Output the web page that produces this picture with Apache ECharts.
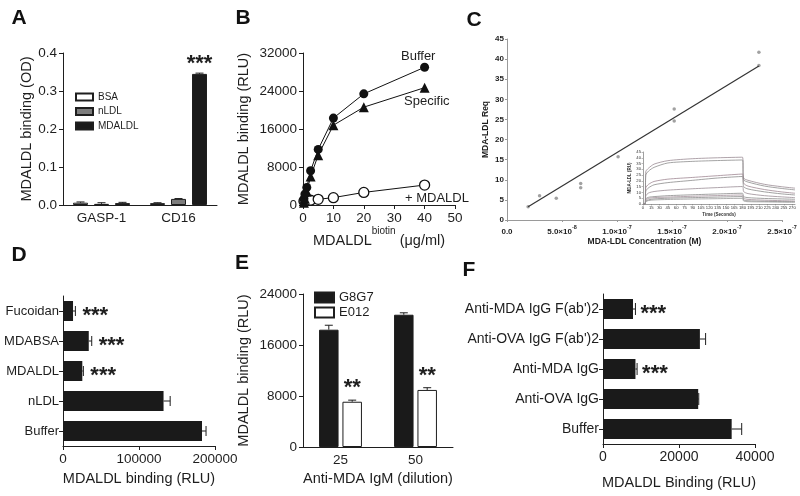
<!DOCTYPE html>
<html><head><meta charset="utf-8">
<script src="https://cdn.jsdelivr.net/npm/echarts@6/dist/echarts.min.js"></script>
<style>html,body{margin:0;padding:0;background:#fff}#c{width:800px;height:496px}</style>
</head><body><div id="c"></div>
<script>
// ---------- Panel A ----------
const aCategories = ['GASP-1', 'CD16'];
const aSeriesNames = ['BSA', 'nLDL', 'MDALDL'];
const aBSA = [0.006, 0.005];
const aBSAErr = [0.002, 0.001];
const aNLDL = [0.003, 0.016];
const aNLDLErr = [0.003, 0.001];
const aMDALDL = [0.005, 0.345];
const aMDALDLErr = [0.002, 0.002];
const aStarsMDALDL = ['', '***'];
const aYTicks = [0, 0.1, 0.2, 0.3, 0.4];
// ---------- Panel B ----------
const bDose = [0.3125, 0.625, 1.25, 2.5, 5, 10, 20, 40];
const bBuffer = [1300, 2300, 3700, 7200, 11700, 18300, 23400, 29000];
const bSpecific = [500, 1300, 2800, 6000, 10500, 16800, 20600, 24700];
const bPlusMDALDL = [800, 900, 950, 1000, 1200, 1550, 2650, 4200];
const bXTicks = [0, 10, 20, 30, 40, 50];
const bYTicks = [0, 8000, 16000, 24000, 32000];
// ---------- Panel C ----------
const cConc = [1.92e-8, 2.96e-8, 4.48e-8, 6.7e-8, 6.7e-8, 1.01e-7, 1.52e-7, 1.52e-7, 2.29e-7, 2.29e-7];
const cReq = [3.3, 6.0, 5.4, 9.1, 8.0, 15.7, 27.6, 24.6, 41.7, 38.4];
const cFitConc = [1.92e-8, 2.29e-7];
const cFitReq = [3.3, 38.3];
const cTime = [0, 4, 5, 10, 20, 45, 90, 135, 180, 182, 190, 220, 250, 275];
const cCurve1 = [0, 0, 28, 31, 34.5, 37.5, 39.2, 40, 40.5, 22.5, 20.5, 17, 15, 13.7];
const cCurve2 = [0, 0, 25, 28.5, 31.7, 35.5, 36.9, 37.6, 38.1, 21, 19, 15.5, 13.5, 12.2];
const cCurve3 = [0, 0, 14, 17, 19.5, 21.5, 23, 24.5, 25.9, 18, 15.5, 12.5, 10.5, 9.3];
const cCurve4 = [0, 0, 11, 14, 16.6, 18.5, 20.5, 22.5, 23.8, 15.1, 13, 10.5, 8.8, 7.8];
const cCurve5 = [0, 0, 7, 9.5, 10.8, 12, 13.2, 14.2, 15.1, 10.8, 9, 7.2, 6.2, 5.5];
const cCurve6 = [0, 0, 4.5, 5.8, 6.4, 7.2, 8, 8.7, 9.3, 6.4, 5.5, 4.8, 4.4, 4.1];
const cCurve7 = [0, 0, 3.5, 4.8, 5.5, 6, 6.7, 7.3, 7.8, 4.9, 4, 3.3, 2.9, 2.6];
const cCurve8 = [0, 0, 2.5, 3.6, 4.4, 5, 5.5, 6, 6.4, 3.5, 2.8, 2.3, 2.1, 2.0];
const cCurve9 = [0, 0, 2, 3, 3.5, 3.9, 4.3, 4.6, 4.9, 2.6, 2, 1.8, 1.6, 1.5];
// ---------- Panel D ----------
const dCategories = ['Buffer', 'nLDL', 'MDALDL', 'MDABSA', 'Fucoidan'];
const dValues = [182900, 132300, 25400, 33900, 13200];
const dErr = [5300, 8700, 1400, 3900, 3100];
const dStars = ['', '', '***', '***', '***'];
// ---------- Panel E ----------
const eCategories = ['25', '50'];
const eG8G7 = [18400, 20750];
const eG8G7Err = [700, 300];
const eE012 = [7100, 8950];
const eE012Err = [250, 350];
const eStarsE012 = ['**', '**'];
// ---------- Panel F ----------
const fCategories = ['Buffer', 'Anti-OVA IgG', 'Anti-MDA IgG', "Anti-OVA IgG F(ab')2", "Anti-MDA IgG F(ab')2"];
const fValues = [33860, 25050, 8540, 25500, 7900];
const fErr = [2640, 150, 430, 1500, 640];
const fStars = ['', '', '***', '', '***'];

const FONT = '"Liberation Sans", Arial, Helvetica, sans-serif';
const INK = '#1e1e1e';
const chart = echarts.init(document.getElementById('c'), null, {renderer: 'canvas'});

function vErr(stars, capHalf, starOff, starSize) {
  return function (params, api) {
    const c = api.value(0), m = api.value(1), e = api.value(2), off = api.value(3);
    const p0 = api.coord([c, m]); const p1 = api.coord([c, m + e]);
    const x = p0[0] + off;
    const ch = [
      {type: 'line', shape: {x1: x, y1: p0[1], x2: x, y2: p1[1]}, style: {stroke: INK, lineWidth: 1}},
      {type: 'line', shape: {x1: x - capHalf, y1: p1[1], x2: x + capHalf, y2: p1[1]}, style: {stroke: INK, lineWidth: 1}}
    ];
    const s = stars[params.dataIndex];
    if (s) ch.push({type: 'text', x: x, y: p1[1] - starOff, style: {text: s, font: 'bold ' + starSize + 'px ' + FONT, fill: INK, align: 'center', verticalAlign: 'middle'}});
    return {type: 'group', children: ch};
  };
}
function hErr(stars, capHalf, starGap, starSize) {
  return function (params, api) {
    const c = api.value(1), m = api.value(0), e = api.value(2);
    const p0 = api.coord([m, c]); const p1 = api.coord([m + e, c]);
    const y = p0[1];
    const ch = [
      {type: 'line', shape: {x1: p0[0], y1: y, x2: p1[0], y2: y}, style: {stroke: INK, lineWidth: 1}},
      {type: 'line', shape: {x1: p1[0], y1: y - capHalf, x2: p1[0], y2: y + capHalf}, style: {stroke: INK, lineWidth: 1}}
    ];
    const s = stars[params.dataIndex];
    if (s) ch.push({type: 'text', x: p1[0] + starGap, y: y + 5, style: {text: s, font: 'bold ' + starSize + 'px ' + FONT, fill: INK, align: 'left', verticalAlign: 'middle'}});
    return {type: 'group', children: ch};
  };
}

const axLine = {show: true, onZero: false, lineStyle: {color: INK, width: 1}};
const axTick = {show: true, length: 4, lineStyle: {color: INK, width: 1}};
const lbl = (fs, extra) => Object.assign({color: INK, fontSize: fs, fontFamily: FONT}, extra || {});
const nameStyle = (fs) => ({color: INK, fontSize: fs, fontFamily: FONT});

// grouped bar offsets (pixels) – style, derived from bar width & gap
const aBarW = 15, aGap = 0.4;
const aOff = i => (i - 1) * aBarW * (1 + aGap);
const eBarW = 19.5, eGap = 0.2;
const eOff = i => (i - 0.5) * eBarW * (1 + eGap);

const aErrData = [];
const aErrStars = [];
[[aBSA, aBSAErr], [aNLDL, aNLDLErr], [aMDALDL, aMDALDLErr]].forEach((pair, s) => {
  pair[0].forEach((v, c) => { aErrData.push([c, v, pair[1][c], aOff(s)]); aErrStars.push(s === 2 ? aStarsMDALDL[c] : ''); });
});
const eErrData = [], eErrStars = [];
[[eG8G7, eG8G7Err], [eE012, eE012Err]].forEach((pair, s) => {
  pair[0].forEach((v, c) => { eErrData.push([c, v, pair[1][c], eOff(s)]); eErrStars.push(s === 1 ? eStarsE012[c] : ''); });
});
const dErrData = dValues.map((v, i) => [v, i, dErr[i]]);
const fErrData = fValues.map((v, i) => [v, i, fErr[i]]);

function sciLabel(v) {
  if (v === 0) return '{b|0.0}';
  const e = Math.floor(Math.log10(v) + 1e-9);
  const m = (v / Math.pow(10, e)).toFixed(1);
  return '{b|' + m + '×10}{s|' + e + '}';
}

const cCurves = [cCurve1, cCurve2, cCurve3, cCurve4, cCurve5, cCurve6, cCurve7, cCurve8, cCurve9];
const cCurveColors = ['#9a8c94', '#8d8d8d', '#a08893', '#8a8a8a', '#9b8d95', '#8c8c8c', '#a3909a', '#8a8a8a', '#9a9a9a'];

const option = {
  animation: false,
  backgroundColor: '#fff',
  textStyle: {fontFamily: FONT},
  grid: [
    {left: 63, top: 53, width: 154, height: 152},   // A 0
    {left: 303, top: 53, width: 152, height: 152},  // B 1
    {left: 507, top: 39, width: 275, height: 181},  // C 2
    {left: 643, top: 152, width: 152, height: 52},  // C inset 3
    {left: 63, top: 296, width: 152, height: 150},  // D 4
    {left: 303, top: 294, width: 150, height: 153}, // E 5
    {left: 603, top: 294, width: 152, height: 150}  // F 6
  ],
  legend: [
    {data: aSeriesNames, left: 75, top: 92, padding: 0, orient: 'vertical', icon: 'rect', itemWidth: 17, itemHeight: 7, itemGap: 4.5,
      textStyle: {fontSize: 10, lineHeight: 10, color: INK, fontFamily: FONT}},
    {data: ['G8G7', 'E012'], left: 314, top: 291, padding: 0, orient: 'vertical', icon: 'rect', itemWidth: 19, itemHeight: 10, itemGap: 2,
      textStyle: {fontSize: 13, lineHeight: 13, color: INK, fontFamily: FONT}}
  ],
  xAxis: [
    {gridIndex: 0, type: 'category', data: aCategories, axisLine: axLine, axisTick: {show: false}, axisLabel: lbl(13.5, {margin: 6})},
    {gridIndex: 1, type: 'value', min: bXTicks[0], max: bXTicks[bXTicks.length - 1], interval: 10, axisLine: axLine, axisTick: axTick,
      splitLine: {show: false}, axisLabel: lbl(13.5, {margin: 6}),
      name: '{n|MDALDL}{s|biotin}{n| (μg/ml)}', nameLocation: 'middle', nameGap: 21,
      nameTextStyle: {rich: {n: {fontSize: 14.5, fontFamily: FONT, color: INK, lineHeight: 22, verticalAlign: 'bottom'},
        s: {fontSize: 10, fontFamily: FONT, color: INK, lineHeight: 22, verticalAlign: 'top'}}}},
    {gridIndex: 2, type: 'value', min: 0, max: 2.5e-7, interval: 5e-8, axisLine: {show: true, lineStyle: {color: '#9a9a9a'}},
      axisTick: {show: true, length: 2, lineStyle: {color: '#9a9a9a'}}, splitLine: {show: false},
      axisLabel: {formatter: sciLabel, margin: 4, rich: {b: {fontSize: 8, fontWeight: 'bold', color: INK, fontFamily: FONT, lineHeight: 12, verticalAlign: 'bottom'},
        s: {fontSize: 5.5, fontWeight: 'bold', color: INK, fontFamily: FONT, lineHeight: 12, verticalAlign: 'top'}}},
      name: 'MDA-LDL Concentration (M)', nameLocation: 'middle', nameGap: 16,
      nameTextStyle: {fontSize: 8.5, fontWeight: 'bold', color: INK, fontFamily: FONT}},
    {gridIndex: 3, type: 'value', min: 0, max: 275, interval: 15, axisLine: {show: true, lineStyle: {color: '#777', width: 0.7}},
      axisTick: {show: true, length: 1.5, lineStyle: {color: '#777', width: 0.5}}, splitLine: {show: false},
      axisLabel: {fontSize: 4.2, color: '#333', fontFamily: FONT, margin: 2, showMaxLabel: false},
      name: 'Time (Seconds)', nameLocation: 'middle', nameGap: 8, nameTextStyle: {fontSize: 4.5, color: '#333', fontFamily: FONT, fontWeight: 'bold'}},
    {gridIndex: 4, type: 'value', min: 0, max: 200000, interval: 100000, axisLine: axLine, axisTick: axTick, splitLine: {show: false},
      axisLabel: lbl(13.5, {margin: 6, formatter: v => String(v)}),
      name: 'MDALDL binding (RLU)', nameLocation: 'middle', nameGap: 25, nameTextStyle: nameStyle(14.5)},
    {gridIndex: 5, type: 'category', data: eCategories, axisLine: axLine, axisTick: {show: false}, axisLabel: lbl(13.5, {margin: 6}),
      name: 'Anti-MDA IgM (dilution)', nameLocation: 'middle', nameGap: 24, nameTextStyle: nameStyle(14.5)},
    {gridIndex: 6, type: 'value', min: 0, max: 40000, interval: 20000, axisLine: axLine, axisTick: axTick, splitLine: {show: false},
      axisLabel: lbl(14, {margin: 6, formatter: v => String(v)}),
      name: 'MDALDL Binding (RLU)', nameLocation: 'middle', nameGap: 31, nameTextStyle: nameStyle(14.5)}
  ],
  yAxis: [
    {gridIndex: 0, type: 'value', min: aYTicks[0], max: aYTicks[aYTicks.length - 1], interval: 0.1, axisLine: axLine, axisTick: axTick,
      splitLine: {show: false}, axisLabel: lbl(13.5, {formatter: v => v.toFixed(1), margin: 6}),
      name: 'MDALDL binding (OD)', nameLocation: 'middle', nameGap: 25, nameTextStyle: nameStyle(14.5)},
    {gridIndex: 1, type: 'value', min: bYTicks[0], max: bYTicks[bYTicks.length - 1], interval: 8000, axisLine: axLine, axisTick: axTick,
      splitLine: {show: false}, axisLabel: lbl(13.5, {margin: 6, formatter: v => String(v)}),
      name: 'MDALDL binding (RLU)', nameLocation: 'middle', nameGap: 52, nameTextStyle: nameStyle(14.5)},
    {gridIndex: 2, type: 'value', min: 0, max: 45, interval: 5, axisLine: {show: true, lineStyle: {color: '#9a9a9a'}},
      axisTick: {show: true, length: 2, lineStyle: {color: '#9a9a9a'}}, splitLine: {show: false},
      axisLabel: {fontSize: 8, fontWeight: 'bold', color: INK, fontFamily: FONT, margin: 3},
      name: 'MDA-LDL Req', nameLocation: 'middle', nameGap: 17, nameTextStyle: {fontSize: 8.5, fontWeight: 'bold', color: INK, fontFamily: FONT}},
    {gridIndex: 3, type: 'value', min: 0, max: 45, interval: 5, axisLine: {show: true, lineStyle: {color: '#777', width: 0.7}},
      axisTick: {show: true, length: 1.5, lineStyle: {color: '#777', width: 0.5}}, splitLine: {show: false},
      axisLabel: {fontSize: 4.2, color: '#333', fontFamily: FONT, margin: 2},
      name: 'MDA-LDL (RU)', nameLocation: 'middle', nameGap: 9, nameTextStyle: {fontSize: 4.5, color: '#333', fontFamily: FONT, fontWeight: 'bold'}},
    {gridIndex: 4, type: 'category', data: dCategories, axisLine: axLine, axisTick: {show: true, length: 4, alignWithLabel: true, lineStyle: {color: INK}},
      axisLabel: lbl(13, {margin: 4})},
    {gridIndex: 5, type: 'value', min: 0, max: 24000, interval: 8000, axisLine: axLine, axisTick: axTick, splitLine: {show: false},
      axisLabel: lbl(13.5, {margin: 6, formatter: v => String(v)}),
      name: 'MDALDL binding (RLU)', nameLocation: 'middle', nameGap: 52, nameTextStyle: nameStyle(14.5)},
    {gridIndex: 6, type: 'category', data: fCategories, axisLine: axLine, axisTick: {show: true, length: 4, alignWithLabel: true, lineStyle: {color: INK}},
      axisLabel: lbl(14, {margin: 4})}
  ],
  series: [
    // A
    {type: 'bar', name: 'BSA', xAxisIndex: 0, yAxisIndex: 0, data: aBSA, barWidth: aBarW, barGap: (aGap * 100) + '%',
      itemStyle: {color: '#ffffff', borderColor: INK, borderWidth: 1}},
    {type: 'bar', name: 'nLDL', xAxisIndex: 0, yAxisIndex: 0, data: aNLDL, barWidth: aBarW, barGap: (aGap * 100) + '%',
      itemStyle: {color: '#7d7d7d', borderColor: INK, borderWidth: 1}},
    {type: 'bar', name: 'MDALDL', xAxisIndex: 0, yAxisIndex: 0, data: aMDALDL, barWidth: aBarW, barGap: (aGap * 100) + '%',
      itemStyle: {color: '#1a1a1a', borderColor: INK, borderWidth: 1}},
    {type: 'custom', xAxisIndex: 0, yAxisIndex: 0, data: aErrData, renderItem: vErr(aErrStars, 4, 9, 22), z: 5},
    // B
    {type: 'line', name: 'Buffer', xAxisIndex: 1, yAxisIndex: 1, data: bDose.map((x, i) => [x, bBuffer[i]]),
      symbol: 'circle', symbolSize: 9, itemStyle: {color: '#111'}, lineStyle: {color: '#111', width: 1}, z: 4},
    {type: 'line', name: 'Specific', xAxisIndex: 1, yAxisIndex: 1, data: bDose.map((x, i) => [x, bSpecific[i]]),
      symbol: 'triangle', symbolSize: 10, itemStyle: {color: '#111'}, lineStyle: {color: '#111', width: 1}, z: 3},
    {type: 'line', name: '+ MDALDL', xAxisIndex: 1, yAxisIndex: 1, data: bDose.map((x, i) => [x, bPlusMDALDL[i]]),
      symbol: 'circle', symbolSize: 10, itemStyle: {color: '#fff', borderColor: '#111', borderWidth: 1.3}, lineStyle: {color: '#111', width: 1}, z: 2},
    // C
    {type: 'line', name: 'fit', xAxisIndex: 2, yAxisIndex: 2, data: cFitConc.map((x, i) => [x, cFitReq[i]]),
      showSymbol: false, symbol: 'none', lineStyle: {color: '#333', width: 1.2}},
    {type: 'scatter', name: 'Req', xAxisIndex: 2, yAxisIndex: 2, data: cConc.map((x, i) => [x, cReq[i]]),
      symbol: 'circle', symbolSize: 3.5, itemStyle: {color: '#8a8a8a'}},
    ...cCurves.map((cv, k) => ({type: 'line', name: 'curve' + (k + 1), xAxisIndex: 3, yAxisIndex: 3,
      data: cTime.map((t, i) => [t, cv[i]]), showSymbol: false, symbol: 'none', smooth: 0.25,
      lineStyle: {color: cCurveColors[k], width: 0.8}})),
    // D
    {type: 'bar', name: 'D', xAxisIndex: 4, yAxisIndex: 4, data: dValues, barWidth: 20, itemStyle: {color: '#1a1a1a'}},
    {type: 'custom', xAxisIndex: 4, yAxisIndex: 4, data: dErrData, renderItem: hErr(dStars, 5, 7, 22), z: 5},
    // E
    {type: 'bar', name: 'G8G7', xAxisIndex: 5, yAxisIndex: 5, data: eG8G7, barWidth: eBarW, barGap: (eGap * 100) + '%',
      itemStyle: {color: '#1a1a1a', borderColor: INK, borderWidth: 1}},
    {type: 'bar', name: 'E012', xAxisIndex: 5, yAxisIndex: 5, data: eE012, barWidth: eBarW, barGap: (eGap * 100) + '%',
      itemStyle: {color: '#ffffff', borderColor: INK, borderWidth: 1}},
    {type: 'custom', xAxisIndex: 5, yAxisIndex: 5, data: eErrData, renderItem: vErr(eErrStars, 4, 12, 22), z: 5},
    // F
    {type: 'bar', name: 'F', xAxisIndex: 6, yAxisIndex: 6, data: fValues, barWidth: 20, itemStyle: {color: '#1a1a1a'}},
    {type: 'custom', xAxisIndex: 6, yAxisIndex: 6, data: fErrData, renderItem: hErr(fStars, 6, 5, 22), z: 5}
  ],
  graphic: [
    ...[['A', 19, 18], ['B', 243, 18], ['C', 474, 20], ['D', 19, 255], ['E', 242, 263], ['F', 469, 270]].map(p => ({
      type: 'text', x: p[1], y: p[2], style: {text: p[0], font: 'bold 21px ' + FONT, fill: '#111', align: 'center', verticalAlign: 'middle'}})),
    {type: 'text', x: 401, y: 56, style: {text: 'Buffer', font: '13px ' + FONT, fill: INK, verticalAlign: 'middle'}},
    {type: 'text', x: 404, y: 101, style: {text: 'Specific', font: '13px ' + FONT, fill: INK, verticalAlign: 'middle'}},
    {type: 'text', x: 405, y: 198, style: {text: '+ MDALDL', font: '13px ' + FONT, fill: INK, verticalAlign: 'middle'}}
  ]
};
chart.setOption(option);
</script>
</body></html>
